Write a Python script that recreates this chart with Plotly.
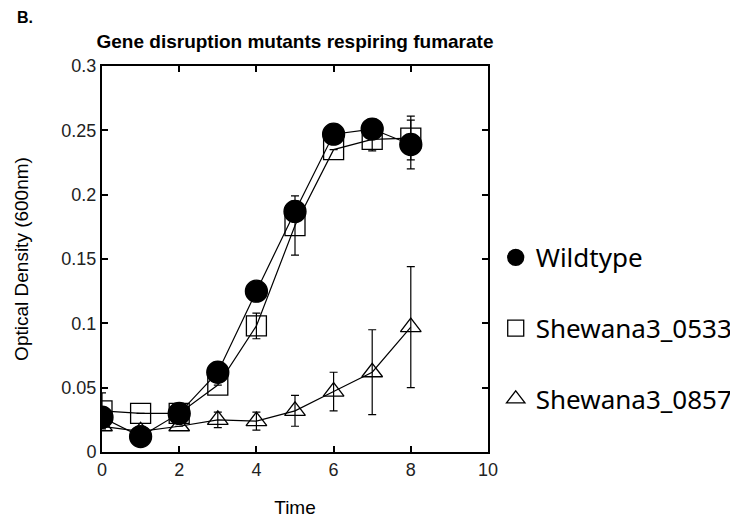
import plotly.graph_objects as go

time = [0, 1, 2, 3, 4, 5, 6, 7, 8]

wildtype = [0.027, 0.012, 0.030, 0.062, 0.125, 0.187, 0.247, 0.251, 0.239]
wildtype_err = [0.003, 0.002, 0.003, 0.003, 0.006, 0.008, 0.004, 0.004, 0.019]

s0533 = [0.032, 0.030, 0.030, 0.052, 0.098, 0.176, 0.235, 0.243, 0.244]
s0533_err = [0.014, 0.0, 0.0, 0.0, 0.010, 0.023, 0.0, 0.009, 0.017]

s0857 = [0.020, 0.016, 0.020, 0.025, 0.024, 0.032, 0.047, 0.062, 0.097]
s0857_err = [0.0, 0.0, 0.0, 0.006, 0.007, 0.012, 0.015, 0.033, 0.047]

series = [
    ("Shewana3_0857", s0857, s0857_err, "triangle-up-open", 18, 3),
    ("Shewana3_0533", s0533, s0533_err, "square-open", 20, 2),
    ("Wildtype", wildtype, wildtype_err, "circle", 22, 1),
]

fig = go.Figure()

# connecting lines
for name, y, err, sym, size, rank in series:
    fig.add_trace(go.Scatter(
        x=time, y=y, mode="lines",
        line=dict(color="black", width=1.2),
        showlegend=False, hoverinfo="skip",
    ))

# markers with error bars
for name, y, err, sym, size, rank in series:
    fig.add_trace(go.Scatter(
        x=time, y=y, mode="markers", name=name,
        legendgroup=name, legendrank=rank,
        marker=dict(symbol=sym, size=size, color="black",
                    line=dict(color="black", width=1.3)),
        error_y=dict(type="data", array=err, visible=True,
                     color="black", thickness=1.2, width=4),
    ))

axis_common = dict(
    showline=True, linecolor="black", linewidth=2,
    mirror="ticks", ticks="inside", ticklen=6, tickwidth=2,
    tickcolor="black", showgrid=False, zeroline=False,
    tickfont=dict(family="Liberation Sans, Arial", size=18, color="#222"),
)

fig.update_xaxes(range=[0, 10], dtick=2, tick0=0,
                 title=dict(text="Time", standoff=22,
                            font=dict(family="Liberation Sans, Arial", size=19, color="black")),
                 **axis_common)
fig.update_yaxes(range=[0, 0.3], dtick=0.05, tick0=0,
                 title=dict(text="Optical Density (600nm)", standoff=28,
                            font=dict(family="Liberation Sans, Arial", size=19, color="black")),
                 **axis_common)

fig.update_layout(
    width=738, height=523,
    margin=dict(l=94, r=258, t=58, b=79, autoexpand=False),
    plot_bgcolor="white", paper_bgcolor="white",
    title=dict(text="<b>Gene disruption mutants respiring fumarate</b>",
               x=0.5, xref="paper", xanchor="center",
               y=1 - 33 / 523, yanchor="middle",
               font=dict(family="Liberation Sans, Arial", size=19, color="black")),
    legend=dict(x=1.02, xanchor="left", y=0.565, yanchor="top",
                font=dict(family="Noto Sans", size=26, color="black"),
                tracegroupgap=34, traceorder="grouped",
                bgcolor="rgba(0,0,0,0)"),
    annotations=[dict(text="<b>B.</b>", xref="paper", yref="paper",
                      x=-0.225, y=1 + (58 - 9) / 386, xanchor="left", yanchor="middle",
                      showarrow=False,
                      font=dict(family="Liberation Sans, Arial", size=16, color="black"))],
)

fig.write_html("out.html")
